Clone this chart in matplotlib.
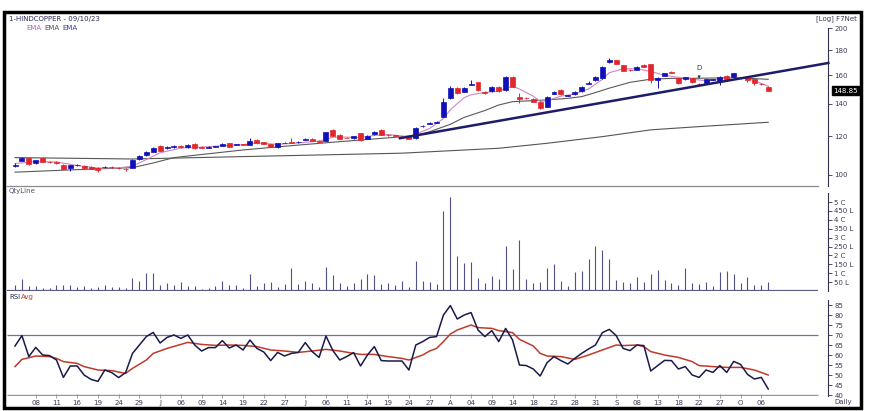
import matplotlib
matplotlib.use('Agg')
import matplotlib.pyplot as plt
from matplotlib.patches import Rectangle
from matplotlib.lines import Line2D
from matplotlib.ticker import NullLocator
import numpy as np

plt.rcParams['font.family'] = ['DejaVu Sans']

# ---------------- data ----------------
opens = [104.5,107.0,108.2,105.8,108.2,106.4,106.1,104.8,103.5,104.6,104.3,103.8,103.5,103.8,103.9,103.3,103.0,103.5,107.8,109.9,
         111.6,114.8,113.4,114.2,114.4,114.1,115.6,114.2,113.8,114.2,114.8,116.1,115.3,115.5,115.2,118.0,116.7,115.6,114.1,116.3,
         116.5,116.6,118.0,118.7,117.6,117.6,123.5,120.8,119.3,118.9,121.8,118.5,121.2,123.6,120.9,120.5,119.8,120.4,118.9,125.9,
         127.3,127.9,131.7,143.6,150.9,148.1,153.2,154.9,148.1,148.6,151.7,149.3,158.8,144.7,143.8,143.1,141.3,138.0,146.8,149.3,
         145.3,146.3,148.6,153.7,156.5,157.8,170.1,171.9,167.9,164.4,164.1,167.9,168.6,156.7,159.8,162.9,157.8,157.0,157.8,153.6,
         154.1,156.8,156.0,159.8,158.5,158.2,159.0,157.0,153.8,151.3]
highs = [105.8,108.6,108.6,107.5,108.6,106.9,106.6,105.1,105.0,105.2,104.6,104.1,103.8,104.5,104.3,103.7,103.3,107.6,109.9,111.7,
         114.2,115.2,114.8,115.0,114.9,115.6,116.0,114.5,114.4,114.8,116.0,116.5,115.9,115.8,119.2,118.4,117.0,115.9,116.4,116.9,
         119.2,117.2,119.1,119.0,117.9,122.7,123.9,121.1,119.6,120.3,122.1,120.8,123.0,124.0,121.2,120.8,120.2,120.7,125.4,126.7,
         128.1,128.8,144.0,151.8,151.5,151.4,156.5,155.4,148.5,152.2,152.1,159.4,159.2,147.0,144.2,143.5,141.7,145.1,148.6,149.7,
         145.9,148.5,152.1,155.6,159.3,167.2,173.5,172.4,168.3,164.8,167.1,168.6,169.0,158.7,161.9,163.3,158.2,158.9,158.2,154.0,
         157.4,157.5,159.4,160.2,161.9,158.8,159.5,157.4,154.5,151.8]
lows = [103.9,106.6,104.9,105.5,106.2,105.7,105.4,102.6,101.9,104.3,102.9,102.6,101.3,103.4,103.3,102.7,101.9,103.2,107.5,109.5,
        111.3,111.8,113.0,113.8,113.7,113.8,113.1,113.4,113.4,113.9,114.5,114.0,115.0,114.9,114.9,115.8,115.6,114.0,113.8,116.0,
        116.0,116.2,117.7,117.3,116.7,117.3,120.1,118.2,118.8,118.6,117.4,118.2,120.9,120.5,120.4,120.0,119.2,118.2,118.6,125.5,
        126.9,127.5,131.2,143.0,146.5,147.6,152.9,148.8,146.8,148.2,148.0,148.5,151.2,140.2,143.1,140.9,136.6,137.6,146.4,145.9,
        145.0,145.9,148.2,153.3,156.1,157.3,169.7,168.4,163.0,163.6,163.7,166.3,154.1,150.6,159.4,161.4,153.7,156.6,154.3,152.7,
        153.7,156.4,153.0,156.6,158.1,157.6,155.0,153.0,152.8,148.4]
closes = [104.8,108.2,105.2,107.2,106.5,106.2,105.9,102.9,104.7,104.8,103.2,102.9,102.4,104.0,103.7,103.1,102.8,107.3,109.4,111.3,
          113.8,112.1,114.3,114.4,114.2,115.2,113.4,113.8,114.0,114.4,115.6,114.3,115.5,115.3,117.4,116.1,115.9,114.3,116.1,116.5,
          116.4,116.8,118.7,117.6,117.0,122.3,120.4,118.5,119.1,120.0,118.0,120.4,122.7,120.8,120.7,120.3,119.6,118.5,125.0,126.2,
          127.6,128.2,140.9,150.9,147.0,150.9,153.5,149.3,147.2,151.7,148.6,159.0,151.7,143.1,143.5,141.3,137.4,144.7,148.1,146.3,
          145.5,148.1,151.7,154.3,158.8,166.7,172.3,168.9,163.4,164.0,166.7,166.7,156.5,158.2,161.5,161.8,154.1,158.5,154.9,153.3,
          157.0,157.1,159.0,157.0,161.5,158.0,156.5,154.6,153.4,148.85]

# EMA lines (candle index, price)
ema_fast_x = [0,3,6,9,12,15,17,19,21,24,27,30,33,35,38,41,44,46,48,50,52,54,57,58,60,62,63,64,65,66,68,70,72,73,75,76,77,79,81,83,
              85,86,88,90,92,94,96,98,100,102,104,106,108,109]
ema_fast_p = [105.5,106.5,106.3,104.5,103.3,103.4,104.2,107.5,111.0,113.5,114.0,114.8,115.3,116.3,115.5,116.3,117.3,119.5,119.5,
              119.3,120.5,121.0,119.8,121.2,124.5,130.5,136.0,140.0,144.0,146.0,147.5,148.5,152.0,150.0,145.0,141.5,142.0,145.0,
              146.5,150.0,157.0,162.0,165.0,165.0,163.0,160.0,158.5,157.0,156.0,157.0,158.5,158.0,154.0,152.0]
ema_mid_x = [0,8,17,20,23,28,33,40,47,53,58,60,63,65,68,70,72,75,77,80,82,84,86,89,92,95,99,104,106,109]
ema_mid_p = [101.3,102.4,103.5,105.8,108.5,110.5,112.5,114.8,117.0,118.8,120.4,122.6,127.0,131.2,135.5,139.1,141.3,142.0,142.5,
             143.5,144.7,147.5,150.6,154.8,157.1,157.7,157.8,158.2,157.8,157.0]
ema_slow_x = [0,17,34,56,70,77,85,92,99,109]
ema_slow_p = [108.5,107.8,109.1,110.8,113.4,116.1,119.8,123.7,125.6,128.2]

trend_x = [55.7, 117.7]
trend_p = [118.9, 169.6]

last_close_label = '148.85'

# volume in lakh
volume = [34,69,30,28,19,19,32,32,36,21,26,15,22,36,24,21,19,71,56,101,101,32,43,32,52,30,30,9,19,30,
          56,32,36,17,95,30,45,49,22,37,127,39,56,43,24,133,92,47,26,47,65,94,92,39,43,32,56,22,170,
          56,52,37,451,530,199,159,161,75,47,82,67,255,124,288,66,45,52,127,152,56,30,107,110,180,255,
          228,180,64,52,43,77,52,96,118,64,45,34,129,47,39,49,30,105,114,97,47,81,34,32,52]

rsi = [64.5,69.7,59.2,63.8,60,59.7,57.5,48.8,54.5,54.5,50,47.8,46.8,52.5,51.2,48.7,51.2,60.8,65,69.2,
       71.3,66,68.8,70,68.3,70,65,62,63.7,63.7,67.2,63.5,65,62.5,67.5,63.3,61.5,57.2,61.3,59.5,
       60.8,61.3,66.2,61.7,58.8,69.5,62.2,57.5,59.2,61.2,54.5,60,64.2,57.2,57,57,57,52.5,65,
       66.7,68.8,69.2,80,84.7,78,80,81.2,72.5,69.2,72.2,66.7,73.3,67.5,55,54.7,53,49.5,56.2,59.2,
       57.2,55.5,58.3,60.8,63,65,71.2,72.8,69.7,63.3,62.2,65,64.7,52,54.7,57.3,57.2,53,54.2,50,
       48.8,52.5,51.3,54.7,51.3,56.8,55.3,50.3,48,48.8,43]
rsi_avg_x = [0,1,3,5,6,7,9,10,12,14,16,17,19,20,22,24,25,27,29,31,33,35,37,39,41,43,45,47,49,50,52,54,56,57,59,
             60,61,62,63,64,66,67,69,70,72,73,75,76,77,79,81,83,85,87,88,90,91,92,94,96,98,99,101,103,105,107,109]
rsi_avg_v = [54.2,57.8,59.5,59.2,58.3,56.7,55.8,54.2,52.5,52.2,50.8,53.3,57.5,60.8,63.3,65.3,66.3,65.3,64.8,65.0,
             64.8,64.2,62.5,62.0,61.3,62.0,62.8,62.0,60.8,60.3,60.3,59.2,58.3,57.5,60.0,62.0,63.3,66.7,70.5,72.5,
             75.0,73.7,73.3,72.2,71.2,67.8,64.5,60.8,59.5,59.2,57.8,60.0,62.5,65.0,64.7,65.0,64.2,61.7,60.0,58.8,
             56.7,54.7,54.2,53.8,53.8,52.5,50.0]

xtick_labels = ['08','11','16','19','24','29','J','06','09','14','19','22','27','J','06','11','14','19','24','27',
                'A','04','09','14','18','23','28','31','S','08','13','18','22','27','O','06']

price_ticks = [100, 120, 140, 160, 180, 200]
vol_ticks = [50, 100, 150, 200, 250, 300, 350, 400, 450, 500]
vol_tick_labels = ['50 L', '1 C', '150 L', '2 C', '250 L', '3 C', '350 L', '4 C', '450 L', '5 C']
rsi_ticks = [40, 45, 50, 55, 60, 65, 70, 75, 80, 85]

# ---------------- layout ----------------
W, H = 870, 411
fig = plt.figure(figsize=(8.7, 4.11), dpi=100)
def fx(px): return px / W
def fy(py): return 1 - py / H

x0, x1 = 7, 828
XMIN, XMAX = -1.16, 117.65
XLINE = 116.2
AX_COL = '#303050'
TXT_COL = '#3a3a55'

ax_p = fig.add_axes([fx(x0), fy(186), fx(x1) - fx(x0), fy(14) - fy(186)])
ax_v = fig.add_axes([fx(x0), fy(291), fx(x1) - fx(x0), fy(186) - fy(291)])
ax_r = fig.add_axes([fx(x0), fy(396), fx(x1) - fx(x0), fy(292) - fy(396)])

for ax in (ax_p, ax_v, ax_r):
    ax.set_xlim(XMIN, XMAX)
    for s in ('top', 'left', 'bottom'):
        ax.spines[s].set_visible(False)
    ax.spines['right'].set_color(AX_COL)
    ax.spines['right'].set_linewidth(0.8)
    ax.yaxis.tick_right()
    ax.tick_params(axis='y', direction='out', length=3, width=0.6, pad=1.5,
                   labelsize=5, colors=AX_COL, labelcolor=TXT_COL)
    ax.set_facecolor('none')

# ---------------- price panel ----------------
ax_p.set_yscale('log')
ax_p.set_ylim(94.9, 213.7)
ax_p.yaxis.set_minor_locator(NullLocator())
ax_p.set_yticks(price_ticks)
ax_p.set_yticklabels([str(t) for t in price_ticks])
ax_p.yaxis.set_minor_locator(NullLocator())
ax_p.spines['right'].set_bounds(94.9, 200)
ax_p.tick_params(axis='x', bottom=False, labelbottom=False)

idx = np.arange(len(closes))
o = np.array(opens); c = np.array(closes); h = np.array(highs); l = np.array(lows)
up = c >= o
cols = np.where(up, '#1010b8', '#e3262b')

ax_p.plot(ema_slow_x, ema_slow_p, color='#555555', lw=0.8, zorder=2)
ax_p.plot(ema_mid_x, ema_mid_p, color='#5a5a5a', lw=0.8, zorder=2)
ax_p.plot(ema_fast_x, ema_fast_p, color='#cc88c4', lw=0.8, zorder=2)
ax_p.plot(trend_x, trend_p, color='#1c1c6a', lw=1.8, zorder=4, clip_on=False)

ax_p.vlines(idx, l, h, colors=cols, lw=0.7, zorder=3)
bottoms = np.minimum(o, c)
heights = np.maximum(np.abs(c - o), 0.2)
ax_p.bar(idx, heights, bottom=bottoms, width=0.72, color=cols, edgecolor=cols, lw=0.5, zorder=3)

ax_p.annotate('D', xy=(99, 157.4), xytext=(99, 165.8), fontsize=5, ha='center', va='center',
              color='#333333', arrowprops=dict(arrowstyle='-|>', lw=0.5, color='#333333',
                                               mutation_scale=4, shrinkA=2, shrinkB=0), zorder=5)

ax_p.text(1.006, 148.85, last_close_label, transform=ax_p.get_yaxis_transform(), fontsize=5,
          color='white', ha='left', va='center',
          bbox=dict(boxstyle='square,pad=0.2', fc='black', ec='black'), zorder=6)

# ---------------- volume panel ----------------
ax_v.set_ylim(0, 590)
ax_v.set_yticks(vol_ticks)
ax_v.set_yticklabels(vol_tick_labels)
ax_v.spines['right'].set_bounds(0, 551)
ax_v.tick_params(axis='x', bottom=False, labelbottom=False)
ax_v.vlines(idx, 0, volume, colors='#50508a', lw=0.8)
ax_v.hlines(2, XMIN, XLINE, colors='#5a5a88', lw=1.6)

# ---------------- RSI panel ----------------
ax_r.set_ylim(39.5, 91.5)
ax_r.set_yticks(rsi_ticks)
ax_r.set_yticklabels([str(t) for t in rsi_ticks])
ax_r.spines['right'].set_bounds(39.5, 87.5)
ax_r.hlines(70, XMIN, XLINE, colors='#7272a0', lw=0.9)
ax_r.hlines(40.0, XMIN, XLINE, colors='#a08ca0', lw=1.0)
ax_r.plot(rsi_avg_x, rsi_avg_v, color='#c0392b', lw=1.1)
ax_r.plot(idx, rsi, color='#1a1a4a', lw=1.1)
ax_r.set_xticks(np.arange(3, 3 * len(xtick_labels) + 1, 3))
ax_r.set_xticklabels(xtick_labels)
ax_r.tick_params(axis='x', direction='inout', length=3, width=0.6, pad=1.5,
                 labelsize=5, colors='#9a8a9a', labelcolor=TXT_COL)

# ---------------- separators, frame, texts ----------------
fig.add_artist(Line2D([fx(x0), fx(818)], [fy(186), fy(186)], color='#8a8a8a', lw=0.9))
fig.add_artist(Rectangle((fx(4), fy(408)), fx(861) - fx(4), fy(12) - fy(408), fill=False,
                         lw=2.5, ec='black', transform=fig.transFigure, zorder=10))

fig.text(fx(9), fy(19), '1-HINDCOPPER - 09/10/23', fontsize=5, color='#2a2a55', va='center')
fig.text(fx(26), fy(28), 'EMA', fontsize=5, color='#c060c0', va='center')
fig.text(fx(44), fy(28), 'EMA', fontsize=5, color='#505060', va='center')
fig.text(fx(62), fy(28), 'EMA', fontsize=5, color='#3a3aa0', va='center')
fig.text(fx(857), fy(19), '[Log] F7Net', fontsize=5, color=TXT_COL, ha='right', va='center')
fig.text(fx(9), fy(191), 'QtyLine', fontsize=5, color='#505070', va='center')
fig.text(fx(9), fy(297), 'RSI', fontsize=5, color='#2a2a55', va='center')
fig.text(fx(21), fy(297), 'Avg', fontsize=5, color='#c0392b', va='center')
fig.text(fx(834), fy(402), 'Daily', fontsize=5, color=TXT_COL, ha='left', va='center')

fig.savefig('out.png', dpi=100)
